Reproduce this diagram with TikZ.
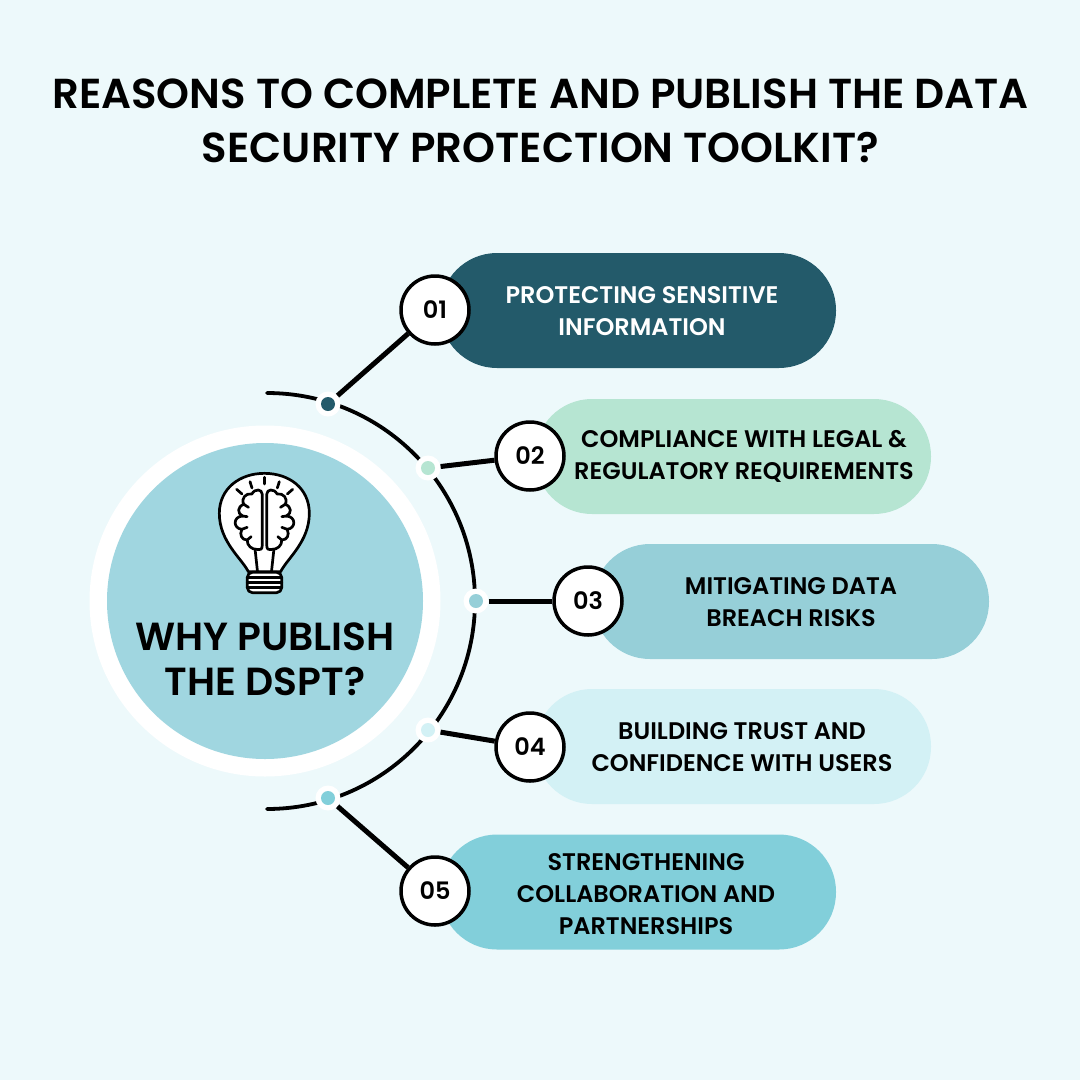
\documentclass[tikz,border=0pt]{standalone}
\usepackage{fontspec}
\setmainfont{Poppins}
\newfontfamily\medfont{Poppins SemiBold}
\newfontfamily\headfont{Poppins SemiBold}
\usetikzlibrary{positioning}
\definecolor{pagebg}{HTML}{EDF9FB}
\definecolor{hubfill}{HTML}{A0D6E0}
\definecolor{tealdark}{HTML}{235A6A}
\definecolor{mintpale}{HTML}{B6E5D2}
\definecolor{bluesoft}{HTML}{96CFD8}
\definecolor{bluepale}{HTML}{D3F1F5}
\definecolor{tealmid}{HTML}{82CFDA}
\tikzset{
        % Reason pills
        pill/.style={rectangle, rounded corners=57pt, minimum width=396pt, minimum height=115pt, inner sep=0pt},
        % Texts in the pills
        pill_text/.style={align=center, inner sep=0pt, font=\medfont\fontsize{24}{32}\selectfont},
        % Number circles
        num_circle/.style={circle, draw=black, line width=3.5pt, fill=white, minimum size=68pt, inner sep=0pt, font=\medfont\fontsize{24}{28}\selectfont},
        % Dots on the arc
        dot_halo/.style={circle, fill=white, minimum size=25pt, inner sep=0pt},
        dot_core/.style={circle, minimum size=14pt, inner sep=0pt},
        % Connectors
        link/.style={draw=black, line width=5pt},
        % Bulb strokes
        bulb_line/.style={draw=black, line width=2.7pt, line cap=round, line join=round}
}
\begin{document}
\begin{tikzpicture}[x=1pt, y=-1pt]
    \fill[pagebg] (0,0) rectangle (1080,1080);
    \useasboundingbox (0,0) rectangle (1080,1080);

    % title
    \node[align=center, inner sep=0pt, font=\headfont\fontsize{41.9}{54}\selectfont] (title) at (540.5,120.5)
        {REASONS TO COMPLETE AND PUBLISH THE DATA\\SECURITY PROTECTION TOOLKIT?};

    % arc
    \coordinate (arcstart) at (267,393);
    \draw[line width=3.8pt, line cap=round] (arcstart) arc[start angle=-90, end angle=90, radius=208];

    % hub
    \node[circle, fill=white, minimum size=351pt, inner sep=0pt] (hubring) at (265,601) {};
    \node[circle, fill=hubfill, minimum size=316pt, inner sep=0pt] (hub) at (265,601) {};
    \node[align=center, inner sep=0pt, font=\medfont\fontsize{39.2}{45}\selectfont] (hubtext) at (265,659) {WHY PUBLISH\\THE DSPT?};

    % pills
    \node[pill, fill=tealdark] (pill1) at (638,310.5) {};
    \node[pill, fill=mintpale] (pill2) at (733,456.5) {};
    \node[pill, fill=bluesoft] (pill3) at (791,601.5) {};
    \node[pill, fill=bluepale] (pill4) at (733,746.5) {};
    \node[pill, fill=tealmid] (pill5) at (638,892) {};

    \node[pill_text, white] (text1) at (642,311) {PROTECTING SENSITIVE\\INFORMATION};
    \node[pill_text] (text2) at (744,456.5) {COMPLIANCE WITH LEGAL \&\\REGULATORY REQUIREMENTS};
    \node[pill_text] (text3) at (791,602.5) {MITIGATING DATA\\BREACH RISKS};
    \node[pill_text] (text4) at (742,747.5) {BUILDING TRUST AND\\CONFIDENCE WITH USERS};
    \node[pill_text] (text5) at (646,894.5) {STRENGTHENING\\COLLABORATION AND\\PARTNERSHIPS};

    % numbers
    \node[num_circle] (num1) at (435,310) {01};
    \node[num_circle] (num2) at (530,456) {02};
    \node[num_circle] (num3) at (588,601) {03};
    \node[num_circle] (num4) at (530,747) {04};
    \node[num_circle] (num5) at (435,891) {05};

    % dots and connectors
    \node[dot_halo] (halo1) at (328,404) {};
    \node[dot_halo] (halo2) at (428,468) {};
    \node[dot_halo] (halo3) at (476,601) {};
    \node[dot_halo] (halo4) at (428,730) {};
    \node[dot_halo] (halo5) at (328,798) {};
    \foreach \i in {1,...,5} {
        \draw[link] (halo\i) -- (num\i);
    }
    \node[dot_core, fill=tealdark] (dot1) at (halo1) {};
    \node[dot_core, fill=mintpale] (dot2) at (halo2) {};
    \node[dot_core, fill=bluesoft] (dot3) at (halo3) {};
    \node[dot_core, fill=bluepale] (dot4) at (halo4) {};
    \node[dot_core, fill=tealmid] (dot5) at (halo5) {};

    % bulb
    \begin{scope}[shift={(200,460)}, x=0.3333pt, y=-0.3333pt]
        \draw[bulb_line, fill=white] (145,335) .. controls (125,295) and (58,245) .. (58,160)
            .. controls (58,85) and (120,40) .. (193,40)
            .. controls (268,40) and (328,85) .. (328,160)
            .. controls (328,245) and (262,295) .. (242,335) -- cycle;
        \draw[bulb_line, fill=white, rounded corners=5pt] (142,337) rectangle (245,398);
        \foreach \y in {352,367,382} {
            \draw[bulb_line] (142,\y) -- (245,\y);
        }
        \foreach \a/\b/\c/\d in {193/52/193/72, 150/65/156/84, 238/65/232/84, 110/88/126/102, 278/88/262/102} {
            \draw[bulb_line] (\a,\b) -- (\c,\d);
        }
        \foreach \s in {1,-1} {
            \begin{scope}[shift={(193.5,0)}, xscale=\s]
                \draw[bulb_line] (-7,258) -- (-7,102) .. controls (-7,88) and (-28,84) .. (-38,102)
                    .. controls (-55,98) and (-72,115) .. (-62,133)
                    .. controls (-82,140) and (-82,160) .. (-66,168)
                    .. controls (-95,170) and (-95,205) .. (-68,208)
                    .. controls (-76,225) and (-68,240) .. (-52,240)
                    .. controls (-52,258) and (-38,268) .. (-24,268)
                    .. controls (-12,270) and (-7,268) .. (-7,258);
                \draw[bulb_line] (-28,270) -- (-21,335);
                \draw[bulb_line] (-66,168) -- (-52,170);
                \draw[bulb_line] (-62,133) -- (-48,142);
                \draw[bulb_line] (-68,208) -- (-52,202);
                \draw[bulb_line] (-52,240) -- (-40,230);
            \end{scope}
        }
    \end{scope}
\end{tikzpicture}
\end{document}
